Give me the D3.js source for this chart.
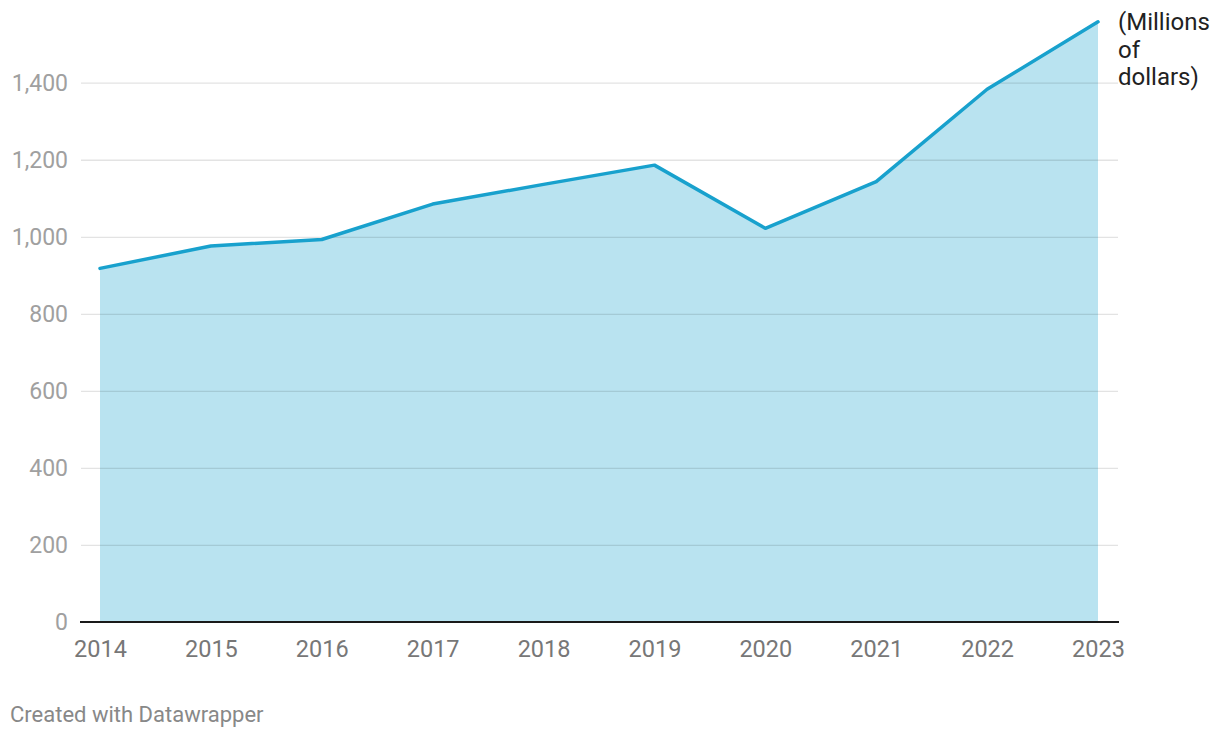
<!DOCTYPE html>
<html><head><meta charset="utf-8">
<script src="https://cdn.jsdelivr.net/npm/d3@7"></script>
<style>body{margin:0;background:#fff;}svg{display:block;font-family:Roboto,sans-serif;}</style>
</head><body>
<svg id="c" width="1220" height="738"></svg>
<script>
const years = [2014,2015,2016,2017,2018,2019,2020,2021,2022,2023];
const values = [918,976,993,1085,1136,1186,1022,1143,1383,1558];
const yTicks = [0,200,400,600,800,1000,1200,1400];
const unitLabel = ["(Millions","of","dollars)"];
const credit = "Created with Datawrapper";

const svg = d3.select("#c");
const x = d3.scaleLinear().domain([2014,2023]).range([100,1098]);
const y = d3.scaleLinear().domain([0,1400]).range([622,82.7]);

const data = years.map((yr,i)=>({yr, v: values[i]}));

svg.append("path").datum(data)
  .attr("d", d3.area().x(d=>x(d.yr)).y0(y(0)).y1(d=>y(d.v)))
  .attr("fill","#b9e3f0");

const gy = svg.append("g").attr("transform","translate(81,0)")
  .call(d3.axisLeft(y).tickValues(yTicks).tickSize(-1037).tickPadding(13).tickFormat(d3.format(",")));
gy.select(".domain").remove();
gy.selectAll(".tick line").attr("stroke","rgba(0,0,0,0.11)").attr("stroke-width",1.3);
gy.selectAll(".tick text").attr("fill","#a0a0a0").style("font-size","23px").style("font-family","Roboto");
gy.selectAll(".tick").filter(d=>d===0).select("line").remove();

svg.append("path").datum(data)
  .attr("d", d3.line().x(d=>x(d.yr)).y(d=>y(d.v)))
  .attr("fill","none").attr("stroke","#18a1cd").attr("stroke-width",3.5)
  .attr("stroke-linejoin","round").attr("stroke-linecap","round");

const gx = svg.append("g").attr("transform",`translate(0,${y(0)})`)
  .call(d3.axisBottom(x).tickValues(years).tickSize(0).tickPadding(18).tickFormat(d3.format("d")));
gx.select(".domain").remove();
gx.selectAll(".tick text").attr("fill","#777").style("font-size","23.5px").style("font-family","Roboto");

svg.append("line").attr("x1",80).attr("x2",1119).attr("y1",y(0)).attr("y2",y(0))
  .attr("stroke","#1a1a1a").attr("stroke-width",2);

const ut = svg.append("text").attr("x",1118).attr("y",30)
  .attr("fill","#222").style("font-size","24px");
unitLabel.forEach((t,i)=>ut.append("tspan").attr("x",1118).attr("dy", i===0?0:27.5).text(t));

svg.append("text").attr("x",10).attr("y",722).attr("fill","#888")
  .style("font-size","22px").text(credit);
</script>
</body></html>
